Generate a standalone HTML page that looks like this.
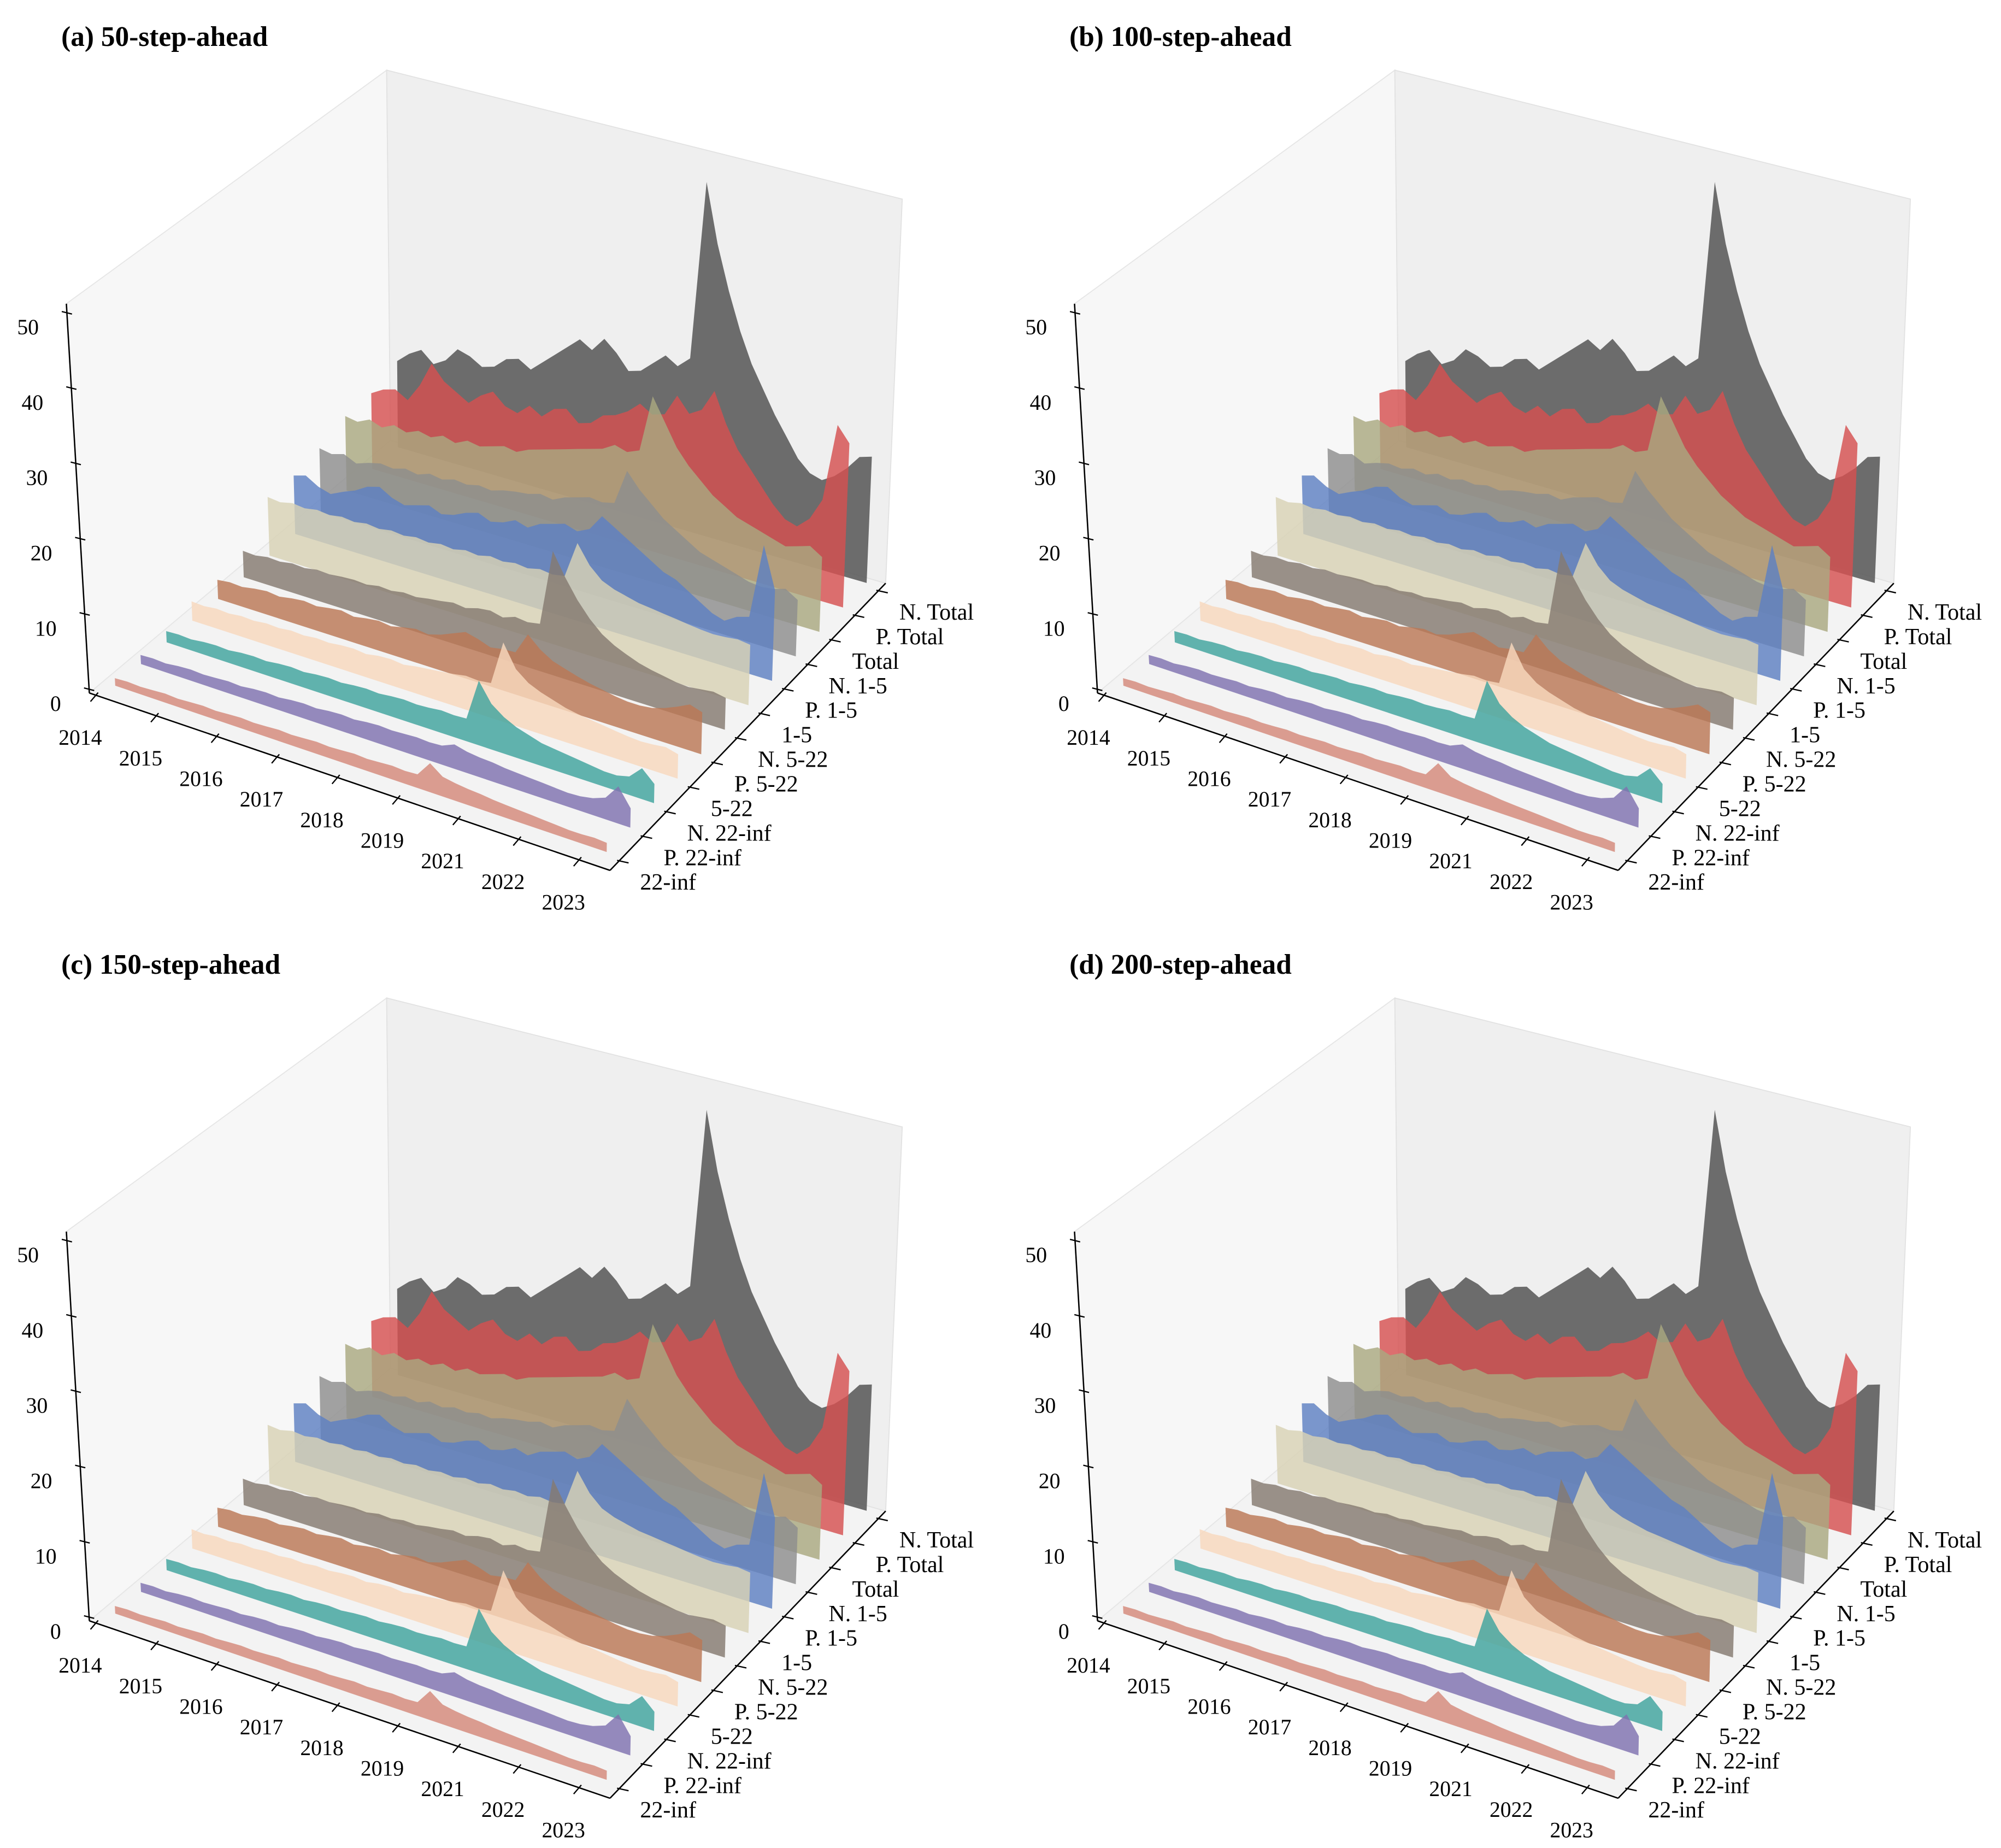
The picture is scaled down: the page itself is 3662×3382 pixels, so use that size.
<!DOCTYPE html>
<html><head><meta charset="utf-8">
<style>
html,body{margin:0;padding:0;background:#fff;}
svg{display:block;}
text{font-family:"Liberation Serif",serif;fill:#000;}
</style></head>
<body>
<svg id="fig" xmlns="http://www.w3.org/2000/svg" width="3662" height="3382" viewBox="0 0 1568 1448" preserveAspectRatio="none"></svg>
<script>
const yearLabels=['2014','2015','2016','2017','2018','2019','2021','2022','2023'];
const seriesNames=['22-inf','P. 22-inf','N. 22-inf','5-22','P. 5-22','N. 5-22','1-5','P. 1-5','N. 1-5','Total','P. Total','N. Total'];
const zTicks=[0,10,20,30,40,50];
const panelTitles=['(a) 50-step-ahead','(b) 100-step-ahead','(c) 150-step-ahead','(d) 200-step-ahead'];
const s22inf=[1.0,1.1,1.0,1.1,1.2,1.1,1.2,1.3,1.2,1.3,1.4,1.3,1.4,1.5,1.4,1.5,1.6,1.5,1.6,1.7,1.6,1.7,1.8,1.7,1.8,3.8,2.6,2.3,2.1,2.0,1.8,1.7,1.6,1.5,1.4,1.3,1.2,1.2,1.3,1.2];
const sP22inf=[1.2,1.3,1.2,1.4,1.5,1.4,1.5,1.6,1.5,1.7,1.8,1.7,1.9,2.0,1.9,2.1,2.2,2.1,2.3,2.4,2.3,2.4,2.5,2.4,2.5,3.2,2.8,2.6,2.5,2.3,2.2,2.1,2.0,1.9,1.8,1.9,2.2,2.8,4.8,2.5];
const sN22inf=[1.5,1.6,1.5,1.7,1.8,1.7,1.9,2.0,1.9,2.1,2.2,2.1,2.3,2.4,2.3,2.5,2.6,2.5,2.7,2.8,2.7,2.8,3.0,2.9,3.0,8.5,6.0,4.8,4.0,3.5,3.0,2.8,2.6,2.4,2.2,2.0,2.0,2.4,4.0,2.5];
const s522=[2.6,2.5,2.7,2.6,2.8,2.7,2.9,2.8,3.0,2.9,3.1,3.0,3.2,3.3,3.1,3.4,3.5,3.3,3.6,3.8,4.0,4.2,4.5,4.4,4.6,10.5,7.5,6.2,5.5,5.0,4.5,4.2,4.0,3.8,3.6,3.4,3.3,3.4,3.6,3.2];
const sP522=[2.6,2.8,2.7,3.0,3.2,3.0,3.3,3.5,3.3,3.6,3.8,3.5,3.8,4.0,3.8,4.2,4.5,4.3,4.8,5.5,6.2,5.8,5.2,5.5,5.6,8.5,7.0,6.0,5.5,5.0,4.6,4.3,4.0,3.8,3.8,4.0,4.5,5.2,6.0,5.5];
const sN522=[3.6,3.5,3.8,3.7,4.0,3.9,4.2,4.1,4.3,4.4,4.3,4.6,4.5,4.8,4.7,5.0,5.2,5.5,5.3,5.8,6.0,5.6,6.2,6.0,6.3,16.5,13.5,11.0,9.0,7.5,6.5,5.8,5.2,4.8,4.5,4.2,4.1,4.3,4.5,4.2];
const s15=[8.0,7.8,8.2,8.0,8.3,8.1,8.4,8.2,8.5,8.3,8.6,8.4,8.7,8.5,8.8,8.6,9.0,8.8,9.2,9.0,9.3,9.1,9.5,9.3,9.6,14.5,12.0,10.5,9.8,9.4,9.0,8.8,8.6,8.4,8.2,8.0,7.9,8.0,8.2,8.0];
const sP15=[8.0,8.5,7.5,7.0,7.8,8.5,9.5,10.0,9.0,8.5,9.0,9.5,8.8,9.2,10.0,10.5,9.8,10.2,11.0,10.5,11.5,12.0,12.5,12.0,12.8,15.0,14.0,13.0,12.0,11.0,10.0,9.5,8.5,7.5,6.5,6.0,7.0,7.5,17.5,12.0];
const sN15=[8.8,8.5,9.0,8.2,8.8,9.2,9.0,9.5,9.2,9.8,9.5,10.0,9.8,10.2,10.0,10.5,10.8,11.0,11.5,11.2,12.0,12.5,13.0,12.8,13.2,18.0,16.0,14.5,13.0,12.0,11.0,10.0,9.5,9.0,8.5,8.0,7.8,8.0,8.5,7.5];
const sTotal=[10.3,10.0,10.8,10.2,11.0,10.5,11.2,10.8,11.5,11.0,11.8,11.5,12.0,12.5,12.2,13.0,13.5,14.0,14.5,15.0,15.5,16.0,17.0,16.5,17.2,25.0,22.0,19.0,17.0,15.5,14.0,13.0,12.0,11.5,11.0,10.5,10.0,10.5,11.0,10.0];
const sPTotal=[10.5,11.5,12.0,11.0,13.5,17.0,15.0,14.0,13.0,14.5,15.5,14.0,13.5,15.0,14.0,15.5,16.0,14.5,15.0,16.5,17.0,18.0,19.5,18.5,19.0,22.0,20.0,21.0,24.0,20.0,17.0,15.0,13.0,11.0,9.5,9.0,10.5,13.5,24.0,22.0];
const sNTotal=[12.0,13.5,14.5,13.0,14.0,16.0,15.5,14.5,15.0,16.5,17.0,16.0,17.5,19.0,20.5,22.0,21.0,23.0,21.5,19.5,20.0,21.5,23.0,22.0,23.5,48.0,40.0,34.0,29.0,25.0,22.0,19.0,16.5,14.0,12.5,12.0,13.0,14.5,16.5,17.0];
const seriesValues=[s22inf,sP22inf,sN22inf,s522,sP522,sN522,s15,sP15,sN15,sTotal,sPTotal,sNTotal];
const seriesColors=['#d4897a','#7f72b0','#3fa39e','#f8d8bd','#bb7856','#857a70','#d8d2b5','#5e80c2','#8e8e8e','#aaa880','#d65050','#4f4f4f'];

const NS='http://www.w3.org/2000/svg';
const svg=document.getElementById('fig');
const F=[[70,543],[478,682],[694,457],[306,345]];
const T=[[52,238],[483,368],[707,156],[303,55]];
const ZMIN=-0.5, ZMAX=51.2;
function lerp(a,b,t){return [a[0]+(b[0]-a[0])*t,a[1]+(b[1]-a[1])*t];}
function bil(C,x,y){return lerp(lerp(C[0],C[1],x),lerp(C[3],C[2],x),y);}
function P(o,x,y,z){const b=bil(F,x,y),t=bil(T,x,y);const zn=(z-ZMIN)/(ZMAX-ZMIN);const p=lerp(b,t,zn);return [p[0]+o[0],p[1]+o[1]];}
function xOf(i,n){return 0.03+i*(0.945/(n-1));}
function xTickPos(k){return 0.012+k*0.116;}
function yOf(s){return 0.035+s*0.0855;}
function pts(a){return a.map(p=>p[0].toFixed(1)+','+p[1].toFixed(1)).join(' ');}
function mk(tag,attrs,parent){const e=document.createElementNS(NS,tag);for(const k in attrs)e.setAttribute(k,attrs[k]);parent.appendChild(e);return e;}

const offsets=[[0,0],[790,0],[0,727],[790,727]];
offsets.forEach((o,pi)=>{
  const g=mk('g',{},svg);
  
  
  const title=mk('text',{x:48+o[0],y:36+o[1],'font-size':22,'font-weight':'bold'},g);
  title.textContent=panelTitles[pi];
  
  
  const floor=mk('polygon',{points:pts([P(o,0,0,ZMIN),P(o,1,0,ZMIN),P(o,1,1,ZMIN),P(o,0,1,ZMIN)]),fill:'#f3f3f3',stroke:'#e6e6e6','stroke-width':0.8},g);
  
  
  const left=mk('polygon',{points:pts([P(o,0,0,ZMIN),P(o,0,1,ZMIN),P(o,0,1,ZMAX),P(o,0,0,ZMAX)]),fill:'#f7f7f7',stroke:'#e6e6e6','stroke-width':0.8},g);
  
  
  const back=mk('polygon',{points:pts([P(o,0,1,ZMIN),P(o,1,1,ZMIN),P(o,1,1,ZMAX),P(o,0,1,ZMAX)]),fill:'#efefef',stroke:'#e2e2e2','stroke-width':0.8},g);
  
  
  const za=P(o,0,0,ZMIN), zb=P(o,0,0,ZMAX);
  const zl=mk('line',{x1:za[0],y1:za[1],x2:zb[0],y2:zb[1],stroke:'#000','stroke-width':1.1},g);
  
  
  zTicks.forEach(z=>{
    const p=P(o,0,0,z);
    const t=mk('line',{x1:p[0]-4,y1:p[1]-1,x2:p[0]+4,y2:p[1]+1,stroke:'#000','stroke-width':1},g);
    
    
    const tx=mk('text',{x:p[0]-22,y:p[1]+17,'font-size':17,'text-anchor':'end'},g);
    tx.textContent=String(z);
    
    
  });
  for(let s=seriesValues.length-1;s>=0;s--){
    const v=seriesValues[s], n=v.length, y=yOf(s);
    const arr=[P(o,xOf(0,n),y,0)];
    v.forEach((val,i)=>arr.push(P(o,xOf(i,n),y,val)));
    arr.push(P(o,xOf(n-1,n),y,0));
    const poly=mk('polygon',{points:pts(arr),fill:seriesColors[s],'fill-opacity':0.82},g);
    
    
  }
  const xa=P(o,0,0,ZMIN), xb=P(o,1,0,ZMIN);
  const xl=mk('line',{x1:xa[0],y1:xa[1],x2:xb[0],y2:xb[1],stroke:'#000','stroke-width':1.1},g);
  
  
  yearLabels.forEach((lab,k)=>{
    const p=P(o,xTickPos(k),0,ZMIN);
    const t=mk('line',{x1:p[0]+2,y1:p[1]-2,x2:p[0]-4,y2:p[1]+5,stroke:'#000','stroke-width':1},g);
    
    
    const tx=mk('text',{x:p[0]-12,y:p[1]+39,'font-size':17,'text-anchor':'middle'},g);
    tx.textContent=lab;
    
    
  });
  const ya=P(o,1,0,ZMIN), yb=P(o,1,1,ZMIN);
  const yl=mk('line',{x1:ya[0],y1:ya[1],x2:yb[0],y2:yb[1],stroke:'#000','stroke-width':1.1},g);
  
  
  seriesNames.forEach((lab,s)=>{
    const p=P(o,1,yOf(s),ZMIN);
    const t=mk('line',{x1:p[0]-2,y1:p[1],x2:p[0]+7,y2:p[1]+2,stroke:'#000','stroke-width':1},g);
    
    
    const tx=mk('text',{x:p[0]+16,y:p[1]+23,'font-size':18},g);
    tx.textContent=lab;
    
    
  });
});
</script>
</body></html>
